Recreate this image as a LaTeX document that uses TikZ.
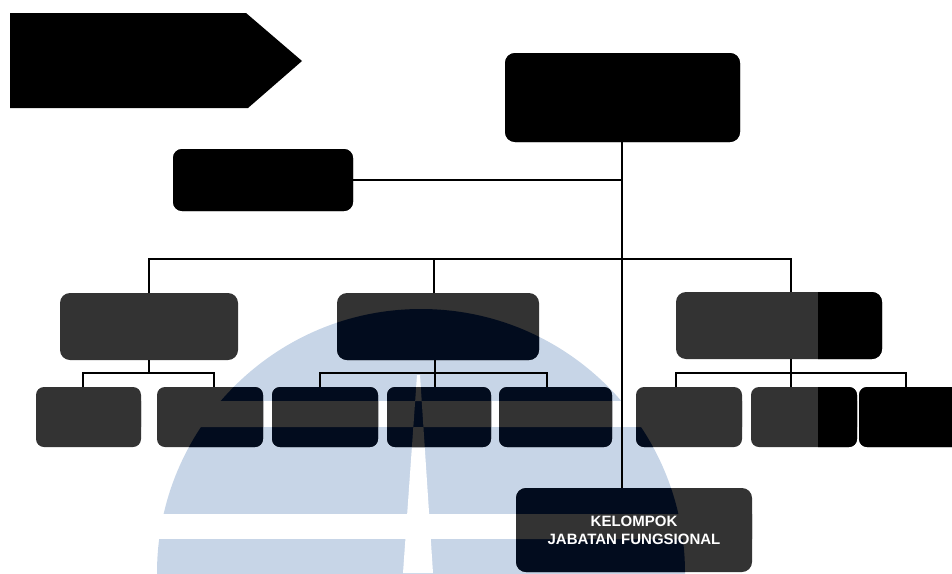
\documentclass[tikz,border=0pt]{standalone}
\usepackage{fontspec}
\setmainfont{Liberation Sans}
\pgfdeclarelayer{wm}
\pgfdeclarelayer{fills}
\pgfsetlayers{wm,fills,main}
\definecolor{wmblue}{HTML}{C7D5E7}
\definecolor{boxgray}{HTML}{333333}
\definecolor{boxnavy}{HTML}{020C1E}
\tikzset{
  box/.style={rectangle, inner sep=0pt, outer sep=0pt, align=center, text=white},
  conn/.style={line width=1.8pt, black},
}
\newcommand{\boxat}[5]{%
  \node[box, minimum width={(#4-#2)*1pt}, minimum height={(#5-#3)*1pt}] (#1) at ({(#2+#4)/2},{(#3+#5)/2}) {};}
\newcommand{\fillboxes}[1]{%
  \foreach \b/\r in {top/10,staff/9,A/10,B/10,C/10,a1/8,a2/8,b1/8,b2/8,b3/8,c1/8,c2/8,c3/8,kel/10}
    {\fill[#1, rounded corners=\r pt] (\b.north west) rectangle (\b.south east);}}
\begin{document}
\begin{tikzpicture}[x=1pt,y=-1pt]
\useasboundingbox (0,0) rectangle (952,573);
\clip (0,0) rectangle (952,573);
% watermark
\begin{pgfonlayer}{wm}
  \fill[wmblue] (421,573) circle[radius=264];
  \fill[white] (0,401) rectangle (952,427);
  \fill[white] (0,514) rectangle (952,539);
  \fill[white] (417,375) -- (420,375) -- (433,573) -- (403,573) -- cycle;
\end{pgfonlayer}
% arrow banner
\fill[black] (10,13) -- (246,13) -- (302,61) -- (248,108) -- (10,108) -- cycle;
% boxes
\boxat{top}{505}{53}{740}{142}
\boxat{staff}{173}{149}{353}{211}
\boxat{A}{60}{293}{238}{360}
\boxat{B}{337}{293}{539}{360}
\boxat{C}{676}{292}{882}{359}
\boxat{a1}{36}{387}{141}{447}
\boxat{a2}{157}{387}{263}{447}
\boxat{b1}{272}{387}{378}{447}
\boxat{b2}{387}{387}{491}{447}
\boxat{b3}{499}{387}{612}{447}
\boxat{c1}{636}{387}{742}{447}
\boxat{c2}{751}{387}{857}{447}
\boxat{c3}{859}{387}{962}{447}
\node[box, minimum width=236pt, minimum height=84pt,
      font=\bfseries\fontsize{15}{18}\selectfont] (kel) at (634,530)
      {KELOMPOK\\JABATAN FUNGSIONAL};
\begin{pgfonlayer}{fills}
  \fillboxes{boxgray}
  \begin{scope}
    \clip (421,573) circle[radius=264];
    \fillboxes{boxnavy}
  \end{scope}
  \begin{scope}
    \clip (0,401) rectangle (952,427) (0,514) rectangle (952,539)
          (417,375) -- (420,375) -- (433,573) -- (403,573) -- cycle;
    \fillboxes{boxgray}
  \end{scope}
  \begin{scope}
    \clip (818,285) rectangle (952,455);
    \fillboxes{black}
  \end{scope}
  \fill[black, rounded corners=10pt] (top.north west) rectangle (top.south east);
  \fill[black, rounded corners=9pt] (staff.north west) rectangle (staff.south east);
\end{pgfonlayer}
% connectors
\draw[conn] (622,0 |- top.south) -- (622,0 |- kel.north);
\draw[conn] (staff.east) -- (622,0 |- staff.east);
\draw[conn] (149,0 |- A.north) -- (149,259) -- (791,259) -- (791,0 |- C.north);
\draw[conn] (434,259) -- (434,0 |- B.north);
\draw[conn] (149,0 |- A.south) -- (149,373);
\draw[conn] (83,0 |- a1.north) -- (83,373) -- (214,373) -- (214,0 |- a2.north);
\draw[conn] (435,0 |- B.south) -- (435,0 |- b2.north);
\draw[conn] (320,0 |- b1.north) -- (320,373) -- (547,373) -- (547,0 |- b3.north);
\draw[conn] (791,0 |- C.south) -- (791,0 |- c2.north);
\draw[conn] (676,0 |- c1.north) -- (676,373) -- (906,373) -- (906,0 |- c3.north);
\end{tikzpicture}
\end{document}
